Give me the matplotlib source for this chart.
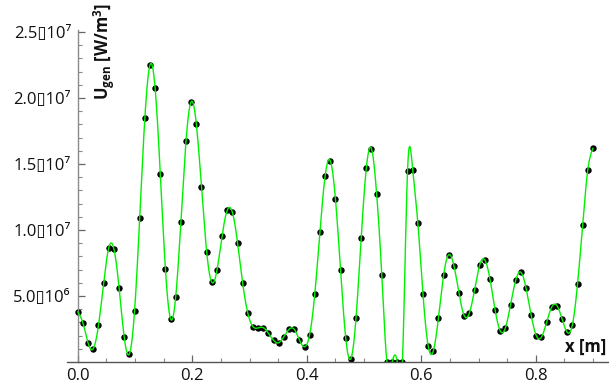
import numpy as np
import matplotlib
matplotlib.use("Agg")
import matplotlib.pyplot as plt
from matplotlib.ticker import FixedLocator, MultipleLocator, NullFormatter

plt.rcParams['font.family'] = ['Open Sans', 'DejaVu Sans']
plt.rcParams['mathtext.fontset'] = 'custom'
plt.rcParams['mathtext.rm'] = 'Open Sans'
plt.rcParams['mathtext.bf'] = 'Open Sans:bold'
plt.rcParams['mathtext.it'] = 'Open Sans:italic'

# sample positions [m]
x_pos = [0.000, 0.009, 0.018, 0.027, 0.036, 0.045, 0.054, 0.063, 0.072, 0.081,
         0.090, 0.099, 0.108, 0.117, 0.126, 0.135, 0.144, 0.153, 0.162, 0.171,
         0.180, 0.189, 0.198, 0.207, 0.216, 0.225, 0.234, 0.243, 0.252, 0.261,
         0.270, 0.279, 0.288, 0.297, 0.306, 0.315, 0.324, 0.333, 0.342, 0.351,
         0.360, 0.369, 0.378, 0.387, 0.396, 0.405, 0.414, 0.423, 0.432, 0.441,
         0.450, 0.459, 0.468, 0.477, 0.486, 0.495, 0.504, 0.513, 0.522, 0.531,
         0.540, 0.549, 0.558, 0.567, 0.576, 0.585, 0.594, 0.603, 0.612, 0.621,
         0.630, 0.639, 0.648, 0.657, 0.666, 0.675, 0.684, 0.693, 0.702, 0.711,
         0.720, 0.729, 0.738, 0.747, 0.756, 0.765, 0.774, 0.783, 0.792, 0.801,
         0.810, 0.819, 0.828, 0.837, 0.846, 0.855, 0.864, 0.873, 0.882, 0.891,
         0.900]

# U_gen values in units of 1e6 W/m^3
u_gen_1e6 = [3.79, 2.93, 1.42, 1.01, 2.78, 5.96, 8.66, 8.56, 5.63, 1.87,
             0.61, 3.84, 10.89, 18.46, 22.50, 20.73, 14.27, 7.02, 3.26, 4.95,
             10.63, 16.77, 19.72, 18.03, 13.23, 8.36, 6.04, 6.95, 9.57, 11.49,
             11.34, 9.04, 5.95, 3.69, 2.67, 2.58, 2.60, 2.17, 1.64, 1.46,
             1.92, 2.48, 2.48, 1.67, 1.16, 2.07, 5.17, 9.87, 14.09, 15.25,
             12.37, 6.95, 1.82, 0.25, 3.33, 9.39, 14.70, 16.16, 12.75, 6.61,
             0.00, 0.00, 0.00, 0.00, 14.50, 14.57, 10.55, 5.13, 1.23, 0.83,
             3.33, 6.57, 8.13, 7.30, 5.20, 3.51, 3.71, 5.43, 7.33, 7.73,
             6.29, 3.94, 2.35, 2.58, 4.34, 6.19, 6.80, 5.61, 3.54, 1.99,
             1.89, 3.01, 4.17, 4.27, 3.26, 2.25, 2.80, 5.89, 10.38, 14.57,
             16.19]

yticks_vals = [5.0e6, 1.0e7, 1.5e7, 2.0e7, 2.5e7]
yticks_labels = ["5.0\u25af10\u2076", "1.0\u25af10\u2077", "1.5\u25af10\u2077",
                 "2.0\u25af10\u2077", "2.5\u25af10\u2077"]
xticks_vals = [0.0, 0.2, 0.4, 0.6, 0.8]
xticks_labels = ["0.0", "0.2", "0.4", "0.6", "0.8"]

x = np.array(x_pos)
y = np.array(u_gen_1e6) * 1e6


def natural_spline(xk, yk, xs):
    n = len(xk)
    h = np.diff(xk)
    A = np.zeros((n, n))
    b = np.zeros(n)
    A[0, 0] = 1
    A[-1, -1] = 1
    for i in range(1, n - 1):
        A[i, i - 1] = h[i - 1]
        A[i, i] = 2 * (h[i - 1] + h[i])
        A[i, i + 1] = h[i]
        b[i] = 3 * ((yk[i + 1] - yk[i]) / h[i] - (yk[i] - yk[i - 1]) / h[i - 1])
    c = np.linalg.solve(A, b)
    idx = np.clip(np.searchsorted(xk, xs) - 1, 0, n - 2)
    hi = h[idx]
    bb = (yk[idx + 1] - yk[idx]) / hi - hi * (2 * c[idx] + c[idx + 1]) / 3
    d = (c[idx + 1] - c[idx]) / (3 * hi)
    t = xs - xk[idx]
    return yk[idx] + bb * t + c[idx] * t ** 2 + d * t ** 3


xs = np.linspace(x[0], x[-1], 4000)
ys = natural_spline(x, y, xs)

fig = plt.figure(figsize=(6.09, 3.89), dpi=100)
ax = fig.add_axes([67 / 609, (389 - 362) / 389, 542 / 609, (362 - 30) / 389])
ax.plot(x, y, 'o', color='black', markersize=3.6, zorder=2, clip_on=True)
ax.plot(xs, ys, color='#00f000', lw=1.0, zorder=3)

ax.set_xlim(-0.019, 0.928)
ax.set_ylim(0, 2.515e7)

for s in ['top', 'right']:
    ax.spines[s].set_visible(False)
ax.spines['left'].set_position(('data', 0))
ax.spines['left'].set_color('#8a8a8a')
ax.spines['bottom'].set_color('#555555')
ax.spines['left'].set_linewidth(1.0)
ax.spines['bottom'].set_linewidth(1.0)

ax.yaxis.set_major_locator(FixedLocator(yticks_vals))
ax.set_yticklabels(yticks_labels)
ax.yaxis.set_minor_locator(MultipleLocator(1e6))
ax.xaxis.set_major_locator(FixedLocator(xticks_vals))
ax.set_xticklabels(xticks_labels)
ax.xaxis.set_minor_locator(MultipleLocator(0.05))
ax.xaxis.set_minor_formatter(NullFormatter())

ax.tick_params(axis='both', which='major', direction='in', length=5, width=0.9,
               color='#666666', labelsize=12, labelcolor='#111111')
ax.tick_params(axis='both', which='minor', direction='in', length=3, width=0.8,
               color='#888888')
ax.tick_params(axis='y', pad=5)
ax.tick_params(axis='x', pad=4)

fig.text(104 / 609, 1 - 52 / 389, r"U$_{\mathbf{gen}}$ [W/m$^{\mathbf{3}}$]",
         rotation=90, ha='center', va='center', fontsize=12, fontweight='bold',
         color='#111111')
fig.text(606 / 609, 1 - 347 / 389, "x [m]", ha='right', va='center',
         fontsize=12, fontweight='bold', color='#111111')

fig.savefig('out.png', dpi=100)
